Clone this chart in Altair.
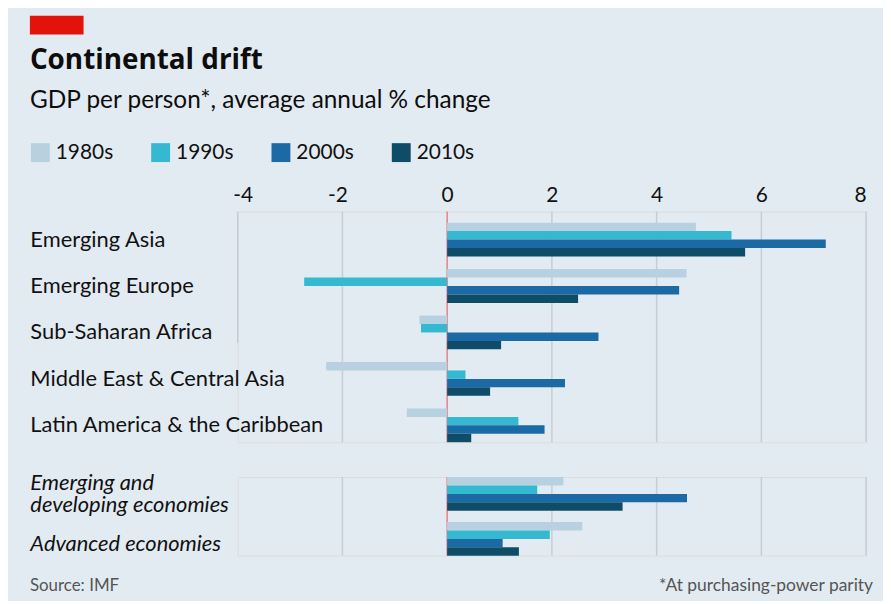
import altair as alt
import pandas as pd

# ---- data ----
regions = ["Emerging Asia", "Emerging Europe", "Sub-Saharan Africa",
           "Middle East & Central Asia", "Latin America & the Caribbean"]
aggregates = ["Emerging and developing economies", "Advanced economies"]
decades = ["1980s", "1990s", "2000s", "2010s"]
colors = ["#b8d1e0", "#35b9d0", "#1b6aa6", "#0e4c67"]

v1980s = [4.75, 4.57, -0.53, -2.31, -0.77, 2.22, 2.58]
v1990s = [5.43, -2.73, -0.50, 0.35, 1.36, 1.72, 1.96]
v2000s = [7.23, 4.43, 2.89, 2.25, 1.86, 4.58, 1.06]
v2010s = [5.69, 2.50, 1.03, 0.82, 0.46, 3.35, 1.37]
tick_values = [-4, -2, 0, 2, 4, 6, 8]

title_text = ["Continental drift"]
subtitle_text = ["GDP per person*, average annual % change"]
source_text = ["Source: IMF"]
note_text = ["*At purchasing-power parity"]

# ---- build table ----
cats = regions + aggregates
rows = []
for i, c in enumerate(cats):
    for d, vals in zip(decades, [v1980s, v1990s, v2000s, v2010s]):
        rows.append({"category": c, "decade": d, "value": vals[i],
                     "panel": "top" if c in regions else "bottom"})
df = pd.DataFrame(rows)
grid_df = pd.DataFrame({"tick": tick_values})

W = 632
H_TOP = 232
H_BOT = 79
GRID = "#c6cdd4"
ZERO = "#e8808a"
LABEL = "#111111"

x_scale = alt.Scale(domain=[-4, 8], nice=False, zero=False)
color_scale = alt.Scale(domain=decades, range=colors)
x_axis_top = alt.Axis(orient="top", values=tick_values, title=None, ticks=False,
                      domain=False, grid=False, labelFontSize=21, labelPadding=6,
                      labelColor=LABEL, labelFont="Lato", labelExpr="'' + datum.value",
                      labelOffset={"condition": {"test": "datum.value < 0", "value": -5},
                                   "value": 0})

legend = alt.Legend(orient="none", legendX=-209, legendY=-70, direction="horizontal",
                    columns=4, title=None, symbolType="square", symbolSize=361,
                    symbolStrokeWidth=0, labelFontSize=21, labelColor=LABEL,
                    labelFont="Lato", columnPadding=37, labelOffset=5)


def y_axis(italic=False):
    kw = dict(title=None, labelAlign="left", labelPadding=209, ticks=False, tickSize=0,
              domain=False, grid=False, labelFontSize=22, labelColor=LABEL,
              labelLimit=420, labelFont="Lato", labelBaseline="middle")
    if italic:
        kw.update(labelFontStyle="italic", labelLineHeight=22,
                  labelOffset={"condition": {"test": "datum.value == 'Advanced economies'",
                                             "value": 5}, "value": -11},
                  labelExpr="datum.label == 'Emerging and developing economies' ? "
                            "['Emerging and', 'developing economies'] : datum.label")
    return alt.Axis(**kw)


def bar_layer(data, domain, pi, po, align, x_axis, italic, leg):
    return alt.Chart(data).mark_bar().encode(
        x=alt.X("value:Q", scale=x_scale, axis=x_axis),
        x2=alt.datum(0),
        y=alt.Y("category:N", sort=domain,
                scale=alt.Scale(domain=domain, paddingInner=pi, paddingOuter=po, align=align),
                axis=y_axis(italic)),
        yOffset=alt.YOffset("decade:N", sort=decades,
                            scale=alt.Scale(domain=decades, paddingInner=0, paddingOuter=0)),
        color=alt.Color("decade:N", scale=color_scale, legend=leg),
    )


# ---- top panel ----
top_grid = alt.Chart(grid_df).transform_filter(
    "datum.tick != 0 && datum.tick != -4").mark_rule(color=GRID, strokeWidth=1.5).encode(
    x=alt.X("tick:Q", scale=x_scale, axis=x_axis_top))
top_grid_m4 = alt.Chart(grid_df).transform_filter("datum.tick == -4").mark_rule(
    color=GRID, strokeWidth=1.5).encode(
    x=alt.X("tick:Q", scale=x_scale, axis=x_axis_top), y=alt.value(0), y2=alt.value(132))
top_zero = alt.Chart(grid_df).transform_filter("datum.tick == 0").mark_rule(
    color=ZERO, strokeWidth=1.5).encode(x=alt.X("tick:Q", scale=x_scale, axis=x_axis_top))
top_bars = bar_layer(df[df.panel == "top"], regions, 0.273, 0.12, 1, x_axis_top, False, legend)

red_bar = alt.Chart(pd.DataFrame({"k": [1]})).mark_rect(color="#e3120b").encode(
    x=alt.value(-209), x2=alt.value(-155), y=alt.value(-197), y2=alt.value(-178))
title = alt.Chart(pd.DataFrame({"t": title_text})).mark_text(
    align="left", baseline="alphabetic", fontSize=28, fontWeight="bold",
    font="Open Sans", color="#0d0d0d").encode(
    x=alt.value(-209), y=alt.value(-143), text="t:N")
subtitle = alt.Chart(pd.DataFrame({"t": subtitle_text})).mark_text(
    align="left", baseline="alphabetic", fontSize=24.5, font="Lato", color="#0d0d0d").encode(
    x=alt.value(-209), y=alt.value(-104), text="t:N")

top = alt.layer(top_grid, top_grid_m4, top_zero, top_bars, red_bar, title, subtitle).properties(
    width=W, height=H_TOP)

# ---- bottom panel ----
bot_grid = alt.Chart(grid_df).transform_filter(
    "datum.tick != 0 && datum.tick != -4").mark_rule(color=GRID, strokeWidth=1.5).encode(
    x=alt.X("tick:Q", scale=x_scale, axis=None))
bot_zero = alt.Chart(grid_df).transform_filter("datum.tick == 0").mark_rule(
    color=ZERO, strokeWidth=1.5).encode(x=alt.X("tick:Q", scale=x_scale, axis=None))
bot_bars = bar_layer(df[df.panel == "bottom"], aggregates, 0.255, 0, 0.5, None, True, legend)

source = alt.Chart(pd.DataFrame({"t": source_text})).mark_text(
    align="left", baseline="alphabetic", fontSize=17, font="Lato", color="#555555").encode(
    x=alt.value(-209), y=alt.value(115), text="t:N")
note = alt.Chart(pd.DataFrame({"t": note_text})).mark_text(
    align="right", baseline="alphabetic", fontSize=17.5, font="Lato", color="#555555").encode(
    x=alt.value(639), y=alt.value(115), text="t:N")

bottom = alt.layer(bot_grid, bot_zero, bot_bars, source, note).properties(
    width=W, height=H_BOT)

chart = alt.vconcat(top, bottom, spacing=26).properties(
    background="#e3ebf2",
    padding={"left": 21, "top": 5, "right": 9, "bottom": 4},
).configure_view(stroke=None).configure(font="Lato")

chart.save("out.html", embed_options={"renderer": "svg", "actions": False})
